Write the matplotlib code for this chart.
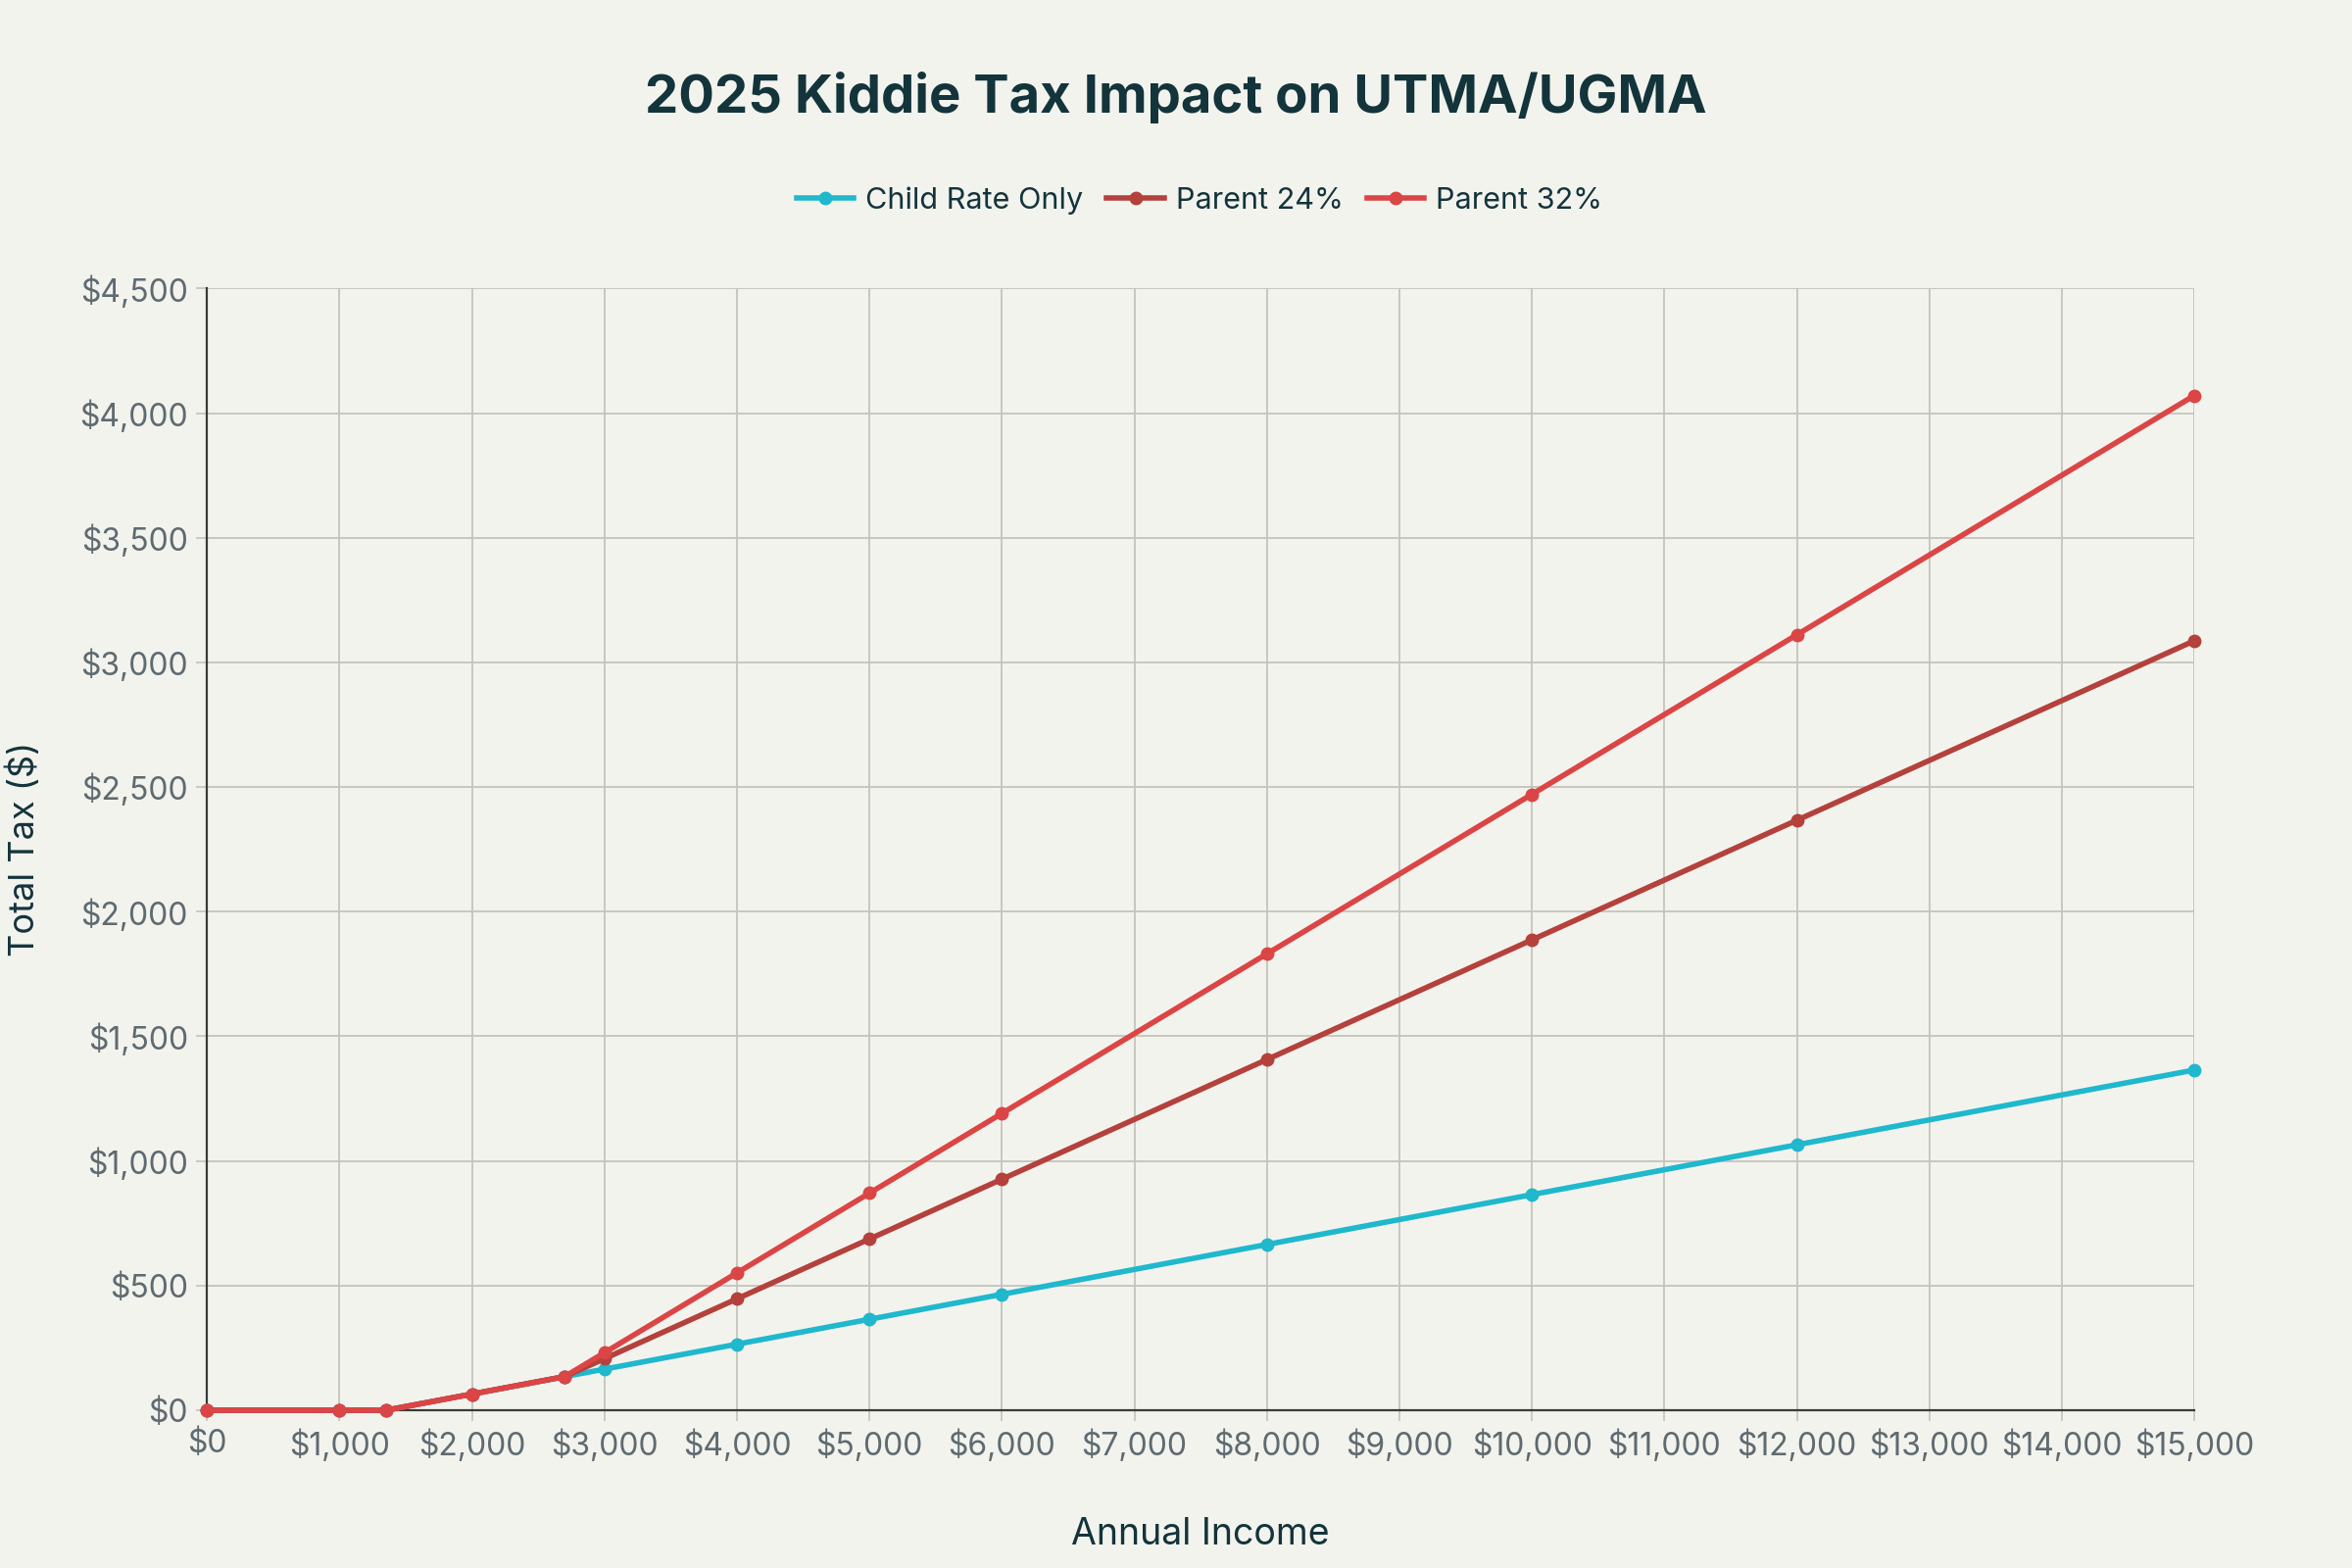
import matplotlib
matplotlib.use("Agg")
import matplotlib.pyplot as plt
from matplotlib.ticker import FuncFormatter, MultipleLocator

income = [0, 1000, 1350, 2000, 2700, 3000, 4000, 5000, 6000, 8000, 10000, 12000, 15000]
child_only = [0, 0, 0, 65, 135, 165, 265, 365, 465, 665, 865, 1065, 1365]
parent_24 = [0, 0, 0, 65, 135, 207, 447, 687, 927, 1407, 1887, 2367, 3087]
parent_32 = [0, 0, 0, 65, 135, 231, 551, 871, 1191, 1831, 2471, 3111, 4071]

series = [
    ("Child Rate Only", child_only, "#1FB8CD"),
    ("Parent 24%", parent_24, "#B4413C"),
    ("Parent 32%", parent_32, "#DB4545"),
]

bg = "#F3F3EE"
plt.rcParams["font.family"] = ["Inter", "DejaVu Sans"]

fig = plt.figure(figsize=(12, 8), dpi=200, facecolor=bg)
ax = fig.add_axes([0.088, 0.1006, 0.845, 0.7154], facecolor=bg)

for label, vals, color in series:
    ax.plot(income, vals, "o-", color=color, lw=2.0, ms=4.0, label=label,
            clip_on=False, zorder=3)

ax.set_xlim(0, 15000)
ax.set_ylim(0, 4500)
ax.xaxis.set_major_locator(MultipleLocator(1000))
ax.yaxis.set_major_locator(MultipleLocator(500))
ax.xaxis.set_major_formatter(FuncFormatter(lambda v, p: f"${v:,.0f}"))
ax.yaxis.set_major_formatter(FuncFormatter(lambda v, p: f"${v:,.0f}"))
ax.grid(True, color="#C4C4BC", lw=0.65)
ax.set_axisbelow(True)
for s in ["top", "right"]:
    ax.spines[s].set_visible(False)
for s in ["left", "bottom"]:
    ax.spines[s].set_color("#3A3A3A")
    ax.spines[s].set_linewidth(0.8)
ax.tick_params(axis="both", colors="#C4C4BC", labelcolor="#5E6B70", labelsize=11.5,
               length=4, width=0.6, pad=3)

ax.set_xlabel("Annual Income", fontsize=13.5, color="#13343B", labelpad=20)
ax.set_ylabel("Total Tax ($)", fontsize=13, color="#13343B", labelpad=14)

fig.text(0.5, 0.938, "2025 Kiddie Tax Impact on UTMA/UGMA", ha="center", va="center",
         fontsize=19.6, fontweight="bold", color="#13343B")
fig.legend(loc="center", bbox_to_anchor=(0.51, 0.872), ncol=3, frameon=False,
           fontsize=11, labelcolor="#13343B", handlelength=1.9, columnspacing=0.8,
           handletextpad=0.4)

fig.savefig("out.png", dpi=200, facecolor=bg)
